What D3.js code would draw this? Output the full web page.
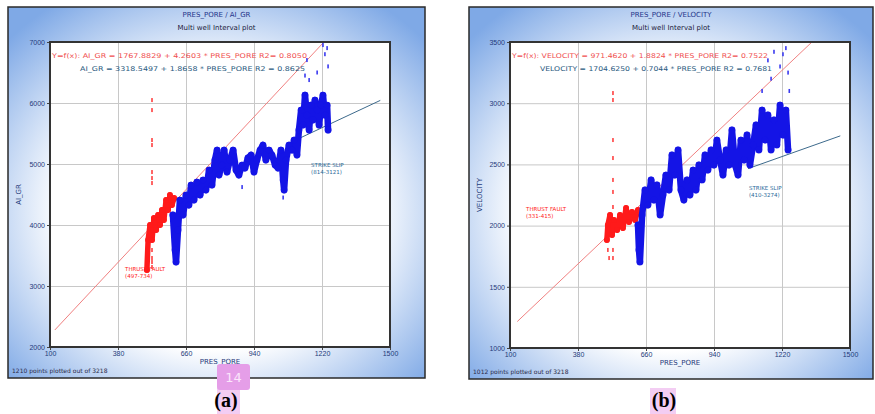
<!DOCTYPE html>
<html>
<head>
<meta charset="utf-8">
<script src="https://cdn.jsdelivr.net/npm/d3@7"></script>
<style>
  body { margin: 0; background: #fff; }
  svg { display: block; font-family: "DejaVu Sans", Arial, sans-serif; }
</style>
</head>
<body>
<script>
// ---- data ----
var xTicks = [100, 380, 660, 940, 1220, 1500];
var yTicksA = [2000, 3000, 4000, 5000, 6000, 7000];
var yTicksB = [1000, 1500, 2000, 2500, 3000, 3500];

// panel (a) PRES_PORE / AI_GR
var aRed = [[499,3262],[504,3754],[512,4000],[520,3754],[528,4114],[537,3918],[545,4164],[553,4000],
  [561,4245],[569,4082],[578,4409],[586,4245],[594,4491],[602,4327],[611,4442]];
var aRedOut = [[520,6048],[520,5884],[520,5393],[520,5311],[520,4868],[520,4770],[520,4688],
  [520,3590],[520,3459],[520,3393],[520,3311]];
var aBlue = [[606,4164],[615,3590],[619,3393],[627,3918],[635,4409],[648,4164],[660,4491],[672,4327],
  [681,4655],[693,4409],[705,4704],[718,4491],[730,4737],[742,4573],[755,4901],[767,4655],[779,5065],
  [788,5229],[796,4819],[808,4983],[817,5229],[829,4868],[841,5065],[854,5229],[866,4901],[878,4819],
  [891,4983],[903,4934],[915,5098],[928,5147],[940,4868],[952,5065],[965,5229],[977,5311],[989,5065],
  [1002,5229],[1014,5147],[1027,4983],[1039,4934],[1051,5229],[1060,4737],[1064,4573],[1072,5065],
  [1084,5311],[1097,5229],[1105,5393],[1117,5147],[1125,5557],[1134,5884],[1142,5639],[1150,6130],
  [1158,5802],[1167,5557],[1175,5966],[1183,5721],[1191,6048],[1200,5884],[1208,5639],[1216,5966],
  [1224,6130],[1232,5802],[1241,5966],[1245,5557]];
var aBlueOut = [[1158,6704],[1167,6376],[1224,6950],[1232,6800],[1241,6900],[1245,6600],[1200,6500],
  [1150,6450],[891,4622],[1060,4450]];
var aFits = [{a: 1767.8829, b: 4.2603, x0: 120, x1: 1300}, {a: 3318.5497, b: 1.8658, x0: 1100, x1: 1460}];
var aEq = ["Y=f(x): AI_GR = 1767.8829  +  4.2603 * PRES_PORE   R2= 0.8050",
           "AI_GR = 3318.5497  +  1.8658 * PRES_PORE   R2 = 0.8625"];
var aNotes = [["THRUST FAULT", "(497-734)"], ["STRIKE SLIP", "(814-3121)"]];

// panel (b) PRES_PORE / VELOCITY
var bRed = [[499,1882],[503,2005],[512,2087],[520,1923],[528,2046],[541,1964],[553,2087],[565,1980],
  [578,2144],[590,2029],[602,2111],[615,2046],[627,2127]];
var bRedOut = [[524,3083],[524,3026],[524,2699],[524,2552],[524,2373],[524,2275],[524,2152],
  [524,1801],[524,1735],[503,1801],[508,1735]];
var bBlue = [[627,2005],[631,1801],[635,1703],[644,2087],[656,2291],[668,2168],[681,2373],[693,2209],
  [705,2332],[718,2087],[730,2250],[742,2413],[755,2291],[767,2577],[779,2413],[792,2618],[804,2291],
  [816,2209],[829,2373],[841,2250],[854,2454],[866,2291],[878,2495],[891,2373],[903,2577],[915,2454],
  [928,2618],[940,2495],[952,2699],[965,2536],[977,2413],[990,2618],[1002,2495],[1014,2781],[1027,2495],
  [1039,2413],[1051,2699],[1064,2536],[1076,2740],[1088,2495],[1101,2659],[1113,2822],[1125,2618],
  [1138,2944],[1150,2699],[1162,2904],[1175,2618],[1187,2863],[1199,2659],[1212,2985],[1224,2740],
  [1236,2944],[1245,2618]];
var bBlueOut = [[1212,3300],[1224,3400],[1236,3450],[1245,3250],[1175,3200],[1138,3100],[1162,3350],
  [1187,3420],[1250,3100]];
var bFits = [{a: 971.4620, b: 1.8824, x0: 130, x1: 1400}, {a: 1704.6250, b: 0.7044, x0: 1080, x1: 1460}];
var bEq = ["Y=f(x): VELOCITY = 971.4620  +  1.8824 * PRES_PORE   R2= 0.7522",
           "VELOCITY = 1704.6250  +  0.7044 * PRES_PORE   R2 = 0.7681"];
var bNotes = [["THRUST FAULT", "(331-415)"], ["STRIKE SLIP", "(410-3274)"]];

var svg = d3.select("body").append("svg").attr("width", 875).attr("height", 414);

var defs = svg.append("defs");
var grad = defs.append("radialGradient").attr("id", "bg").attr("cx", "50%").attr("cy", "55%").attr("r", "68%");
grad.append("stop").attr("offset", "0%").attr("stop-color", "#ffffff");
grad.append("stop").attr("offset", "55%").attr("stop-color", "#ffffff");
grad.append("stop").attr("offset", "100%").attr("stop-color", "#7fa9e6");

function drawPanel(p) {
  var g = svg.append("g");
  // frame
  g.append("rect").attr("x", p.frame[0]).attr("y", p.frame[1])
    .attr("width", p.frame[2] - p.frame[0]).attr("height", p.frame[3] - p.frame[1])
    .attr("fill", "url(#bg)").attr("stroke", "#2a2a2a").attr("stroke-width", 1.5);

  var x = d3.scaleLinear().domain([100, 1500]).range([p.box[0], p.box[2]]);
  var y = d3.scaleLinear().domain([p.yTicks[0], p.yTicks[p.yTicks.length - 1]]).range([p.box[3], p.box[1]]);
  var w = p.box[2] - p.box[0], h = p.box[3] - p.box[1];

  g.append("rect").attr("x", p.box[0]).attr("y", p.box[1]).attr("width", w).attr("height", h)
    .attr("fill", "#fff");

  // grid
  g.append("g").attr("transform", "translate(0," + p.box[3] + ")")
    .call(d3.axisBottom(x).tickValues(xTicks).tickSize(-h).tickFormat(""))
    .call(function(s) { s.select(".domain").remove(); s.selectAll("line").attr("stroke", "#c8c8c8"); });
  g.append("g").attr("transform", "translate(" + p.box[0] + ",0)")
    .call(d3.axisLeft(y).tickValues(p.yTicks).tickSize(-w).tickFormat(""))
    .call(function(s) { s.select(".domain").remove(); s.selectAll("line").attr("stroke", "#c8c8c8"); });

  // tick labels
  g.append("g").attr("transform", "translate(0," + p.box[3] + ")")
    .call(d3.axisBottom(x).tickValues(xTicks).tickSize(3).tickPadding(1).tickFormat(d3.format("d")))
    .call(function(s) {
      s.select(".domain").remove();
      s.selectAll("line").attr("stroke", "#444");
      s.selectAll("text").attr("font-size", 7).attr("fill", "#1f3a7a").attr("font-family", "Liberation Sans");
    });
  g.append("g").attr("transform", "translate(" + p.box[0] + ",0)")
    .call(d3.axisLeft(y).tickValues(p.yTicks).tickSize(3).tickPadding(2).tickFormat(d3.format("d")))
    .call(function(s) {
      s.select(".domain").remove();
      s.selectAll("line").attr("stroke", "#444");
      s.selectAll("text").attr("font-size", 7).attr("fill", "#1f3a7a").attr("font-family", "Liberation Sans");
    });

  var clipId = "clip" + p.id;
  defs.append("clipPath").attr("id", clipId).append("rect")
    .attr("x", p.box[0]).attr("y", p.box[1]).attr("width", w).attr("height", h);
  var plot = g.append("g").attr("clip-path", "url(#" + clipId + ")");

  // fit lines
  plot.append("line").attr("x1", x(p.fits[0].x0)).attr("y1", y(p.fits[0].a + p.fits[0].b * p.fits[0].x0))
    .attr("x2", x(p.fits[0].x1)).attr("y2", y(p.fits[0].a + p.fits[0].b * p.fits[0].x1))
    .attr("stroke", "#f08080").attr("stroke-width", 1);
  plot.append("line").attr("x1", x(p.fits[1].x0)).attr("y1", y(p.fits[1].a + p.fits[1].b * p.fits[1].x0))
    .attr("x2", x(p.fits[1].x1)).attr("y2", y(p.fits[1].a + p.fits[1].b * p.fits[1].x1))
    .attr("stroke", "#3d6a8c").attr("stroke-width", 1);

  var line = d3.line().x(function(d) { return x(d[0]); }).y(function(d) { return y(d[1]); });

  // red series
  plot.append("path").datum(p.red).attr("d", line).attr("fill", "none")
    .attr("stroke", "#ff1a1a").attr("stroke-width", 5.5).attr("stroke-linejoin", "round").attr("stroke-linecap", "round");
  plot.append("g").selectAll("circle").data(p.red).enter().append("circle")
    .attr("cx", function(d) { return x(d[0]); }).attr("cy", function(d) { return y(d[1]); })
    .attr("r", 3).attr("fill", "#ff1a1a");
  plot.append("g").selectAll("rect").data(p.redOut).enter().append("rect")
    .attr("x", function(d) { return x(d[0]) - 0.8; }).attr("y", function(d) { return y(d[1]) - 2; })
    .attr("width", 1.6).attr("height", 4).attr("fill", "#ff4040");

  // blue series
  plot.append("path").datum(p.blue).attr("d", line).attr("fill", "none")
    .attr("stroke", "#1414e6").attr("stroke-width", 6.5).attr("stroke-linejoin", "round").attr("stroke-linecap", "round");
  plot.append("g").selectAll("circle").data(p.blue).enter().append("circle")
    .attr("cx", function(d) { return x(d[0]); }).attr("cy", function(d) { return y(d[1]); })
    .attr("r", 3.4).attr("fill", "#1414e6");
  plot.append("g").selectAll("rect").data(p.blueOut).enter().append("rect")
    .attr("x", function(d) { return x(d[0]) - 0.8; }).attr("y", function(d) { return y(d[1]) - 2; })
    .attr("width", 1.6).attr("height", 4).attr("fill", "#3a3af0");

  // plot border
  g.append("rect").attr("x", p.box[0]).attr("y", p.box[1]).attr("width", w).attr("height", h)
    .attr("fill", "none").attr("stroke", "#333").attr("stroke-width", 2);

  // equations
  g.append("text").attr("x", p.eqPos[0][0]).attr("y", p.eqPos[0][1]).attr("textLength", p.eqPos[0][2])
    .attr("lengthAdjust", "spacingAndGlyphs").attr("font-size", 6.5).attr("fill", "#f05050").text(p.eq[0]);
  g.append("text").attr("x", p.eqPos[1][0]).attr("y", p.eqPos[1][1]).attr("textLength", p.eqPos[1][2])
    .attr("lengthAdjust", "spacingAndGlyphs").attr("font-size", 6.5).attr("fill", "#2a5a80").text(p.eq[1]);

  // notes
  p.notes.forEach(function(n, i) {
    var t = g.append("text").attr("font-size", 5.5).attr("fill", i === 0 ? "#ff2020" : "#2a6a9a")
      .attr("x", x(p.notePos[i][0])).attr("y", y(p.notePos[i][1]));
    t.append("tspan").text(n[0]);
    t.append("tspan").attr("x", x(p.notePos[i][0])).attr("dy", 7).text(n[1]);
  });

  // titles
  var cx = (p.frame[0] + p.frame[2]) / 2;
  g.append("text").attr("x", cx).attr("y", 17).attr("text-anchor", "middle").attr("font-size", 7)
    .attr("fill", "#24358a").text(p.title);
  g.append("text").attr("x", cx).attr("y", 30).attr("text-anchor", "middle").attr("font-size", 7)
    .attr("fill", "#1a1a3a").text("Multi well Interval plot");

  // axis titles
  g.append("text").attr("x", (p.box[0] + p.box[2]) / 2).attr("y", p.box[3] + 17).attr("text-anchor", "middle")
    .attr("font-size", 7).attr("fill", "#1f3a7a").text("PRES_PORE");
  g.append("text").attr("transform", "translate(" + (p.frame[0] + 13) + "," + ((p.box[1] + p.box[3]) / 2) + ") rotate(-90)")
    .attr("text-anchor", "middle").attr("font-size", 7).attr("fill", "#1f3a7a").text(p.yTitle);

  // footer
  g.append("text").attr("x", p.frame[0] + 4).attr("y", p.frame[3] - 5).attr("font-size", 6)
    .attr("fill", "#2a2a4a").text(p.footer);
}

drawPanel({id: "a", frame: [8, 7, 425, 378], box: [50, 42, 390, 347], yTicks: yTicksA,
  red: aRed, redOut: aRedOut, blue: aBlue, blueOut: aBlueOut, fits: aFits, eq: aEq,
  eqPos: [[52, 58, 255], [80, 71, 225]], notes: aNotes, notePos: [[409, 3250], [1175, 4950]],
  title: "PRES_PORE / AI_GR", yTitle: "AI_GR", footer: "1210 points plotted out of 3218"});

drawPanel({id: "b", frame: [469, 7, 873, 379], box: [510, 42, 850, 348], yTicks: yTicksB,
  red: bRed, redOut: bRedOut, blue: bBlue, blueOut: bBlueOut, fits: bFits, eq: bEq,
  eqPos: [[512, 58, 256], [540, 71, 232]], notes: bNotes, notePos: [[166, 2120], [1084, 2290]],
  title: "PRES_PORE / VELOCITY", yTitle: "VELOCITY", footer: "1012 points plotted out of 3218"});

// page annotations under the panels
svg.append("rect").attr("x", 217).attr("y", 388).attr("width", 23).attr("height", 26).attr("fill", "#f3cdf3");
svg.append("rect").attr("x", 217).attr("y", 364).attr("width", 33).attr("height", 26).attr("rx", 3).attr("fill", "#e59ee8");
svg.append("text").attr("x", 233.5).attr("y", 382).attr("text-anchor", "middle").attr("font-size", 13)
  .attr("fill", "#fbe6fb").text("14");
svg.append("rect").attr("x", 650).attr("y", 388).attr("width", 26).attr("height", 26).attr("fill", "#f3cdf3");

svg.append("text").attr("x", 226).attr("y", 407).attr("text-anchor", "middle")
  .attr("font-family", "Liberation Serif").attr("font-weight", "bold").attr("font-size", 20).text("(a)");
svg.append("text").attr("x", 664).attr("y", 407).attr("text-anchor", "middle")
  .attr("font-family", "Liberation Serif").attr("font-weight", "bold").attr("font-size", 20).text("(b)");
</script>
</body>
</html>
